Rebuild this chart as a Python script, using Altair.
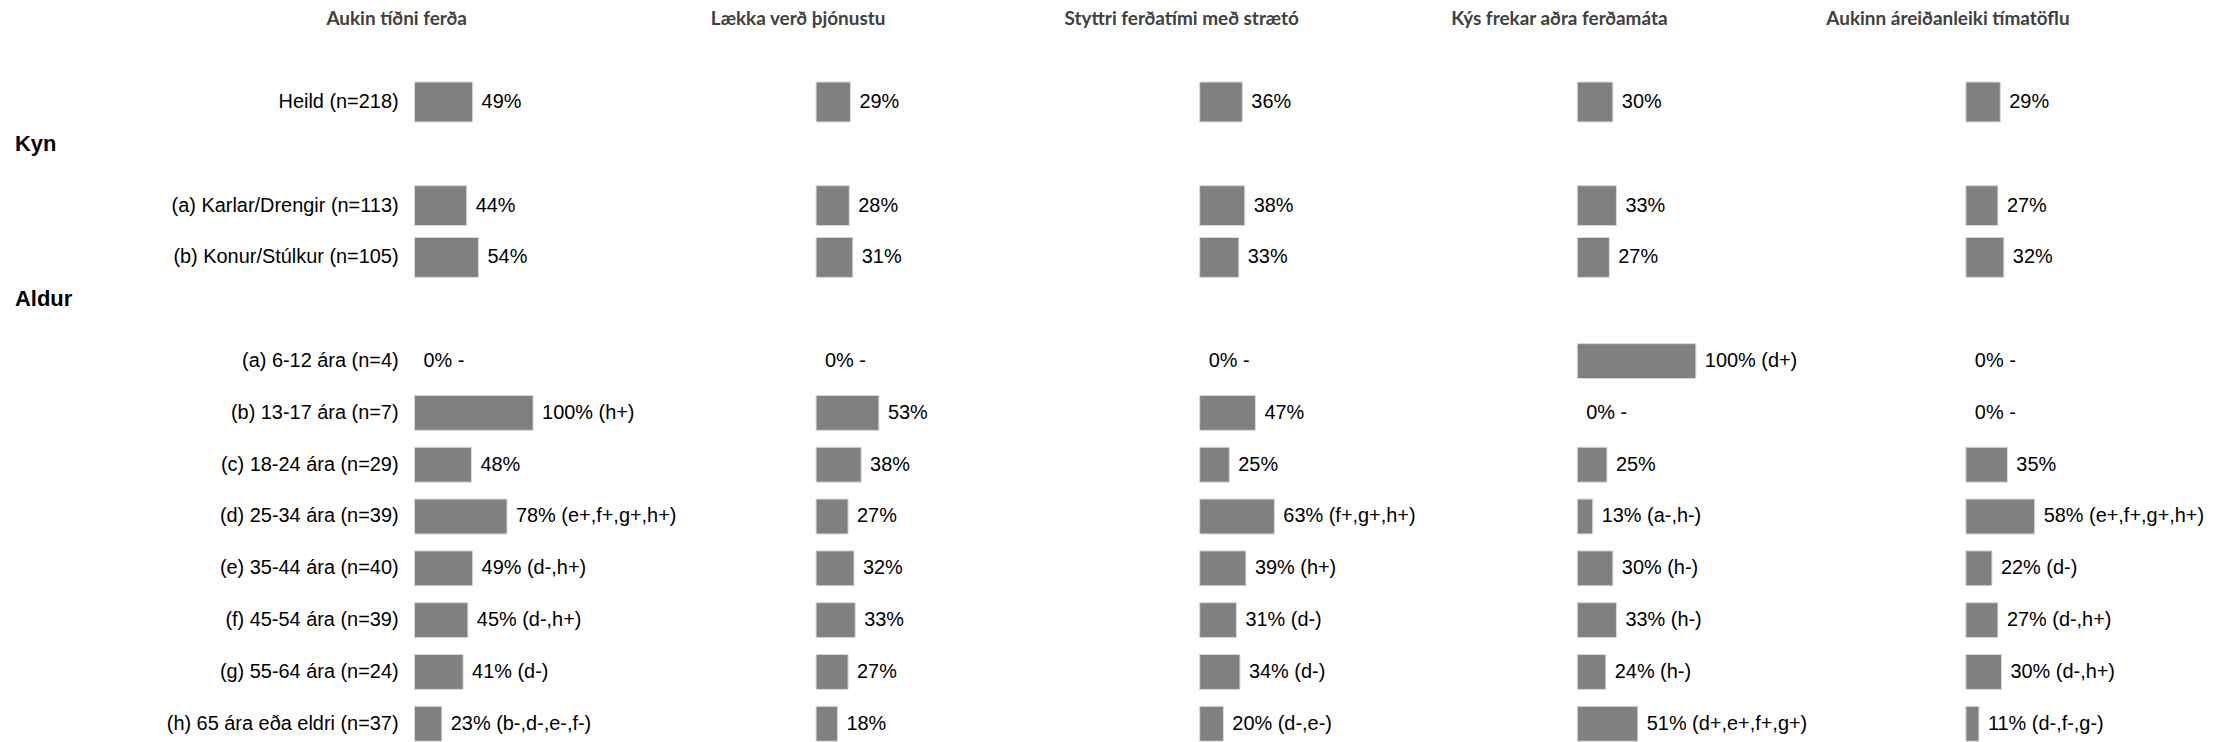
import altair as alt
import pandas as pd

# ---- data ----
row_labels = [
    "Heild (n=218)",
    "(a) Karlar/Drengir (n=113)",
    "(b) Konur/Stúlkur (n=105)",
    "(a) 6-12 ára (n=4)",
    "(b) 13-17 ára (n=7)",
    "(c) 18-24 ára (n=29)",
    "(d) 25-34 ára (n=39)",
    "(e) 35-44 ára (n=40)",
    "(f) 45-54 ára (n=39)",
    "(g) 55-64 ára (n=24)",
    "(h) 65 ára eða eldri (n=37)",
]
row_groups = ["top", "top", "top", "age", "age", "age", "age", "age", "age", "age", "age"]
headers = ["Kyn", "Aldur"]

questions = [
    "Aukin tíðni ferða",
    "Lækka verð þjónustu",
    "Styttri ferðatími með strætó",
    "Kýs frekar aðra ferðamáta",
    "Aukinn áreiðanleiki tímatöflu",
]

values_1 = [49, 44, 54, 0, 100, 48, 78, 49, 45, 41, 23]
sig_1 = ["", "", "", "-", "(h+)", "", "(e+,f+,g+,h+)", "(d-,h+)", "(d-,h+)", "(d-)", "(b-,d-,e-,f-)"]

values_2 = [29, 28, 31, 0, 53, 38, 27, 32, 33, 27, 18]
sig_2 = ["", "", "", "-", "", "", "", "", "", "", ""]

values_3 = [36, 38, 33, 0, 47, 25, 63, 39, 31, 34, 20]
sig_3 = ["", "", "", "-", "", "", "(f+,g+,h+)", "(h+)", "(d-)", "(d-)", "(d-,e-)"]

values_4 = [30, 33, 27, 100, 0, 25, 13, 30, 33, 24, 51]
sig_4 = ["", "", "", "(d+)", "-", "", "(a-,h-)", "(h-)", "(h-)", "(h-)", "(d+,e+,f+,g+)"]

values_5 = [29, 27, 32, 0, 0, 35, 58, 22, 27, 30, 11]
sig_5 = ["", "", "", "-", "-", "", "(e+,f+,g+,h+)", "(d-)", "(d-,h+)", "(d-,h+)", "(d-,f-,g-)"]

all_values = [values_1, values_2, values_3, values_4, values_5]
all_sigs = [sig_1, sig_2, sig_3, sig_4, sig_5]

# y domain: rows with header rows in between
row_domain = [row_labels[0], headers[0], row_labels[1], row_labels[2], headers[1]] + row_labels[3:]

panel_widths = [403, 385, 379, 390, 250]
px_per_pct = 1.19
LABEL_FONT = "Liberation Sans"
TITLE_FONT = "Lato"

panels = []
for i, (q, vals, sigs) in enumerate(zip(questions, all_values, all_sigs)):
    df = pd.DataFrame({
        "row": row_labels,
        "grp": row_groups,
        "value": vals,
        "label": [f"{v}%" + (f" {s}" if s else "") for v, s in zip(vals, sigs)],
    })
    W = panel_widths[i]
    xscale = alt.Scale(domain=[0, W / px_per_pct], nice=False, zero=True)
    yscale = alt.Scale(domain=row_domain, paddingInner=0, paddingOuter=0)
    base = alt.Chart(df)
    bars = base.transform_filter(alt.datum.value > 0).mark_bar(
        color="#808080", stroke="#d9d9d9", strokeWidth=1
    ).encode(
        x=alt.X("value:Q", scale=xscale, axis=None),
        y=alt.Y("row:N", scale=yscale, axis=None),
        size=alt.condition(alt.datum.grp == "top", alt.value(40), alt.value(35)),
    )
    vtext = base.mark_text(
        align="left", baseline="middle", dx=9, font=LABEL_FONT, fontSize=20, color="#000000"
    ).encode(
        x=alt.X("value:Q", scale=xscale, axis=None),
        y=alt.Y("row:N", scale=yscale, axis=None),
        text="label:N",
    )
    title = alt.Chart(pd.DataFrame({"t": [q]})).mark_text(
        align="center", baseline="middle", font=TITLE_FONT, fontWeight="bold",
        fontSize=19, color="#404040"
    ).encode(x=alt.value(-18), y=alt.value(-57), text="t:N")
    layers = [bars, vtext, title]
    if i == 0:
        rlab = base.mark_text(
            align="right", baseline="middle", font=LABEL_FONT, fontSize=20, color="#000000"
        ).encode(
            x=alt.value(-16),
            y=alt.Y("row:N", scale=yscale, axis=None),
            text="row:N",
        )
        hdr = alt.Chart(pd.DataFrame({"row": headers})).mark_text(
            align="left", baseline="middle", dy=-10, font=LABEL_FONT, fontSize=22,
            fontWeight="bold", color="#000000"
        ).encode(
            x=alt.value(-401),
            y=alt.Y("row:N", scale=yscale, axis=None),
            text="row:N",
        )
        layers += [rlab, hdr]
    panels.append(alt.layer(*layers).properties(width=W, height=676))

chart = alt.hconcat(*panels, spacing=0, bounds="flush").configure_view(
    stroke=None
).properties(
    padding={"left": 7, "top": 1, "right": 0, "bottom": 0},
    background="white",
)

chart.save("out.html", embed_options={"renderer": "svg", "actions": False})
